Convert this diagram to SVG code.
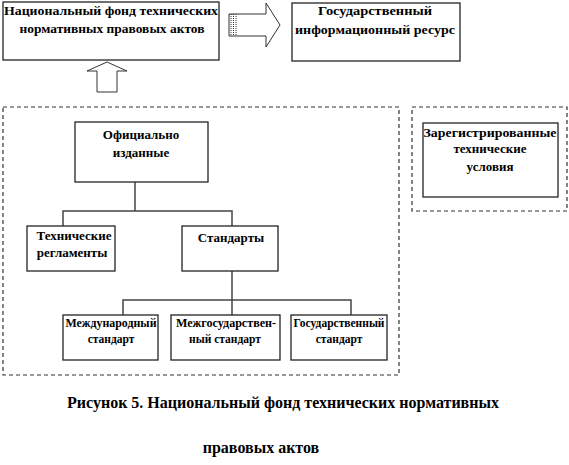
<svg xmlns="http://www.w3.org/2000/svg" width="569" height="465" viewBox="0 0 569 465" font-family="Liberation Serif, serif" font-weight="bold">
<style>
.box{fill:#fff;stroke:#222;stroke-width:1.3}
.dash{fill:none;stroke:#333;stroke-width:1.2;stroke-dasharray:4 3}
.ln{fill:none;stroke:#444;stroke-width:1.5}
.arr{fill:#fff;stroke:#333;stroke-width:1}
.hatch{stroke:#333;stroke-width:1;stroke-dasharray:1 1}
text{fill:#000;text-anchor:middle}
.t{font-size:13px}
.s{font-size:11.5px}
.cap{font-size:16px}
</style>
<rect width="569" height="465" fill="#fff"/>
<g id="fund">
<rect class="box" x="3" y="2" width="216" height="58"/>
<text class="t" x="111" y="15" textLength="214" lengthAdjust="spacingAndGlyphs">Национальный фонд технических</text>
<text class="t" x="112" y="33" textLength="185" lengthAdjust="spacingAndGlyphs">нормативных правовых актов</text>
</g>
<g id="resource">
<rect class="box" x="292" y="3" width="168" height="58"/>
<text class="t" x="375" y="15" textLength="114" lengthAdjust="spacingAndGlyphs">Государственный</text>
<text class="t" x="375" y="34" textLength="160" lengthAdjust="spacingAndGlyphs">информационный  ресурс</text>
</g>
<g id="arrows">
<polygon class="arr" points="229,14 266,14 266,3 280,25 266,47 266,36 229,36"/>
<line class="hatch" x1="231" y1="14" x2="231" y2="36"/>
<line class="hatch" x1="233.5" y1="14" x2="233.5" y2="36"/>
<line class="hatch" x1="236" y1="14" x2="236" y2="36"/>
<polygon class="arr" points="107,62 127,71 117,71 117,92 97,92 97,71 87,71"/>
</g>
<g id="frames">
<rect class="dash" x="3" y="107" width="396" height="268"/>
<rect class="dash" x="412" y="107" width="155" height="104"/>
</g>
<g id="connectors">
<polyline class="ln" points="135,182 135,211"/>
<polyline class="ln" points="63,226 63,211 232,211 232,226"/>
<polyline class="ln" points="232,271 232,315"/>
<polyline class="ln" points="123,315 123,300 351,300 351,315"/>
</g>
<g id="official">
<rect class="box" x="75" y="122" width="133" height="60"/>
<text class="t" x="141" y="139">Официально</text>
<text class="t" x="141" y="157">изданные</text>
</g>
<g id="registered">
<rect class="box" x="423" y="123" width="135" height="74"/>
<text class="t" x="490" y="137" textLength="133" lengthAdjust="spacingAndGlyphs">Зарегистрированные</text>
<text class="t" x="490" y="153">технические</text>
<text class="t" x="490" y="171">условия</text>
</g>
<g id="reglaments">
<rect class="box" x="27" y="226" width="88" height="45"/>
<text class="t" x="74" y="240">Технические</text>
<text class="t" x="72" y="257">регламенты</text>
</g>
<g id="standards">
<rect class="box" x="182" y="226" width="96" height="45"/>
<text class="t" x="231" y="242">Стандарты</text>
</g>
<g id="intl">
<rect class="box" x="63" y="315" width="95" height="45"/>
<text class="t s" x="111" y="327" textLength="91" lengthAdjust="spacingAndGlyphs">Международный</text>
<text class="t s" x="111" y="343">стандарт</text>
</g>
<g id="interstate">
<rect class="box" x="171" y="315" width="109" height="45"/>
<text class="t s" x="226" y="327" textLength="100" lengthAdjust="spacingAndGlyphs">Межгосударствен-</text>
<text class="t s" x="225" y="343">ный стандарт</text>
</g>
<g id="state">
<rect class="box" x="291" y="315" width="96" height="45"/>
<text class="t s" x="339" y="327" textLength="91" lengthAdjust="spacingAndGlyphs">Государственный</text>
<text class="t s" x="339" y="343">стандарт</text>
</g>
<g id="caption">
<text class="cap" x="283" y="408">Рисунок 5. Национальный фонд технических нормативных</text>
<text class="cap" x="261" y="453">правовых актов</text>
</g>
</svg>
